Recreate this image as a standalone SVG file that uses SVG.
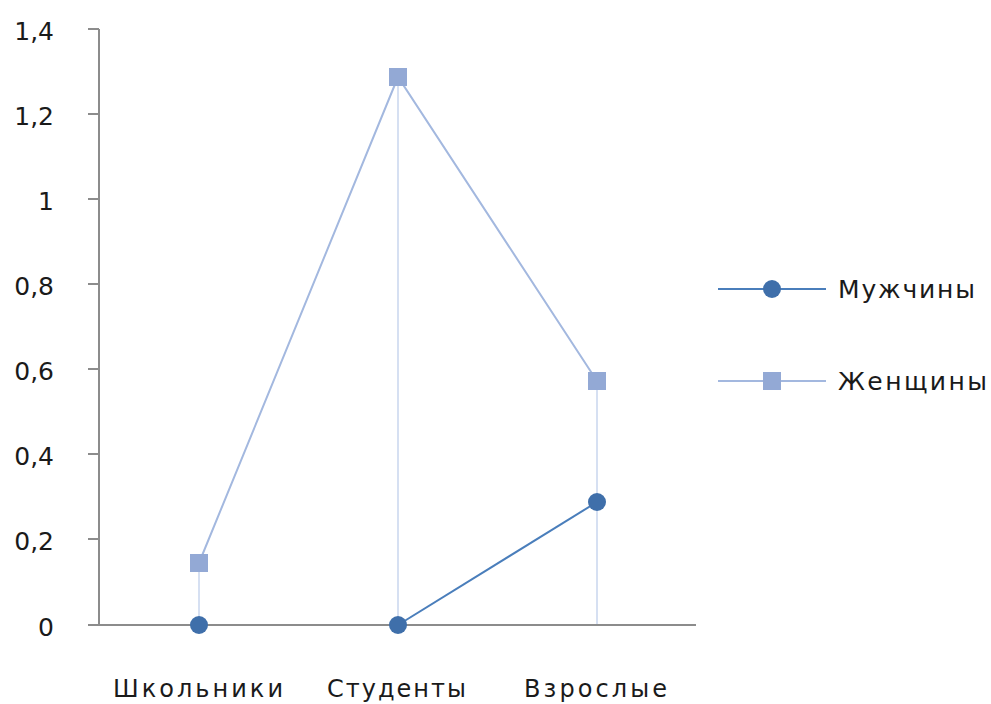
<svg xmlns="http://www.w3.org/2000/svg" width="991" height="704" viewBox="0 0 991 704">
<style>
text{font-family:"DejaVu Sans","Liberation Sans",sans-serif;font-size:25px;fill:#1a1a1a}
.yl{text-anchor:end}
.xl{font-size:24px}
.axis{stroke:#8c8c8c;stroke-width:2;fill:none}
.drop{stroke:#d6e0f2;stroke-width:2}
.m{stroke:#4a7ebb;stroke-width:2;fill:none}
.f{stroke:#a3b8df;stroke-width:2;fill:none}
.mc{fill:#3f6faa}
.fs{fill:#93a9d5}
</style>
<rect width="991" height="704" fill="#fff"/>
<g id="ylabels">
<text class="yl" x="54" y="40">1,4</text>
<text class="yl" x="54" y="125">1,2</text>
<text class="yl" x="54" y="210">1</text>
<text class="yl" x="54" y="295">0,8</text>
<text class="yl" x="54" y="380">0,6</text>
<text class="yl" x="54" y="465">0,4</text>
<text class="yl" x="54" y="550">0,2</text>
<text class="yl" x="54" y="636">0</text>
</g>
<g id="xlabels">
<text class="xl" x="113" y="697" textLength="170" lengthAdjust="spacing">Школьники</text>
<text class="xl" x="327" y="697" textLength="139" lengthAdjust="spacing">Студенты</text>
<text class="xl" x="524" y="697" textLength="143" lengthAdjust="spacing">Взрослые</text>
</g>
<g id="connectors">
<path class="drop" d="M199 563V625M398 77V625M597 381V625"/>
<polyline class="f" points="199,563 398,77 597,381"/>
<polyline class="m" points="398,625 597,502"/>
</g>
<g id="axes">
<path class="axis" d="M99 29V625M88 29H99M88 114H99M88 199H99M88 284H99M88 369H99M88 454H99M88 539H99M88 625H696"/>
</g>
<g id="series-women">
<rect class="fs" x="190" y="554" width="18" height="18"/>
<rect class="fs" x="389" y="68" width="18" height="18"/>
<rect class="fs" x="588" y="372" width="18" height="18"/>
</g>
<g id="series-men">
<circle class="mc" cx="199" cy="625" r="9"/>
<circle class="mc" cx="398" cy="625" r="9"/>
<circle class="mc" cx="597" cy="502" r="9"/>
</g>
<g id="legend-men">
<line class="m" x1="718" y1="289" x2="826" y2="289"/>
<circle class="mc" cx="772" cy="289" r="9"/>
<text x="838" y="298" textLength="137" lengthAdjust="spacing">Мужчины</text>
</g>
<g id="legend-women">
<line class="f" x1="718" y1="381" x2="826" y2="381"/>
<rect class="fs" x="763" y="372" width="18" height="18"/>
<text x="838" y="390" textLength="149" lengthAdjust="spacing">Женщины</text>
</g>
</svg>
